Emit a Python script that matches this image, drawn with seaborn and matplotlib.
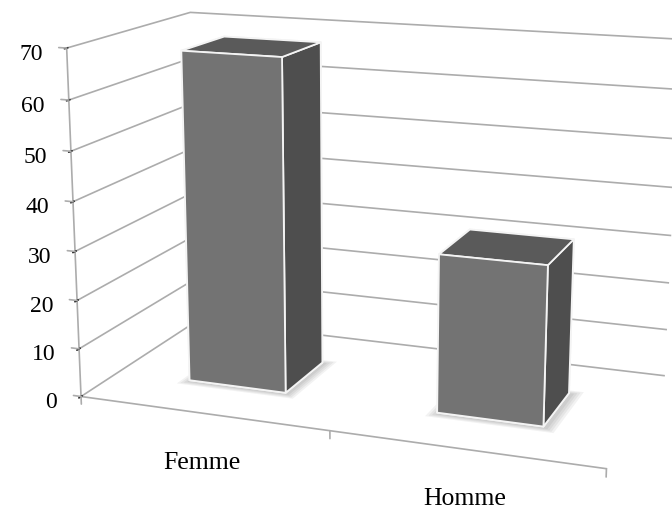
import numpy as np
import matplotlib
matplotlib.use("Agg")
import matplotlib.pyplot as plt
import matplotlib.transforms as mtransforms
from mpl_toolkits.mplot3d import proj3d
from mpl_toolkits.mplot3d.art3d import Poly3DCollection
import seaborn as sns

sns.set_theme(style="white")
plt.rcParams['font.family'] = ['Liberation Serif', 'DejaVu Serif']

# data
categories = ["Femme", "Homme"]
values = [68, 32]
zticks = [0, 10, 20, 30, 40, 50, 60, 70]

# look of the excel-like 3d column chart
bar_width = 0.4
bar_front = 0.306
bar_depth = 0.372
front_c, top_c, side_c = '#737373', '#5a5a5a', '#4e4e4e'
grid_c = '#acacac'

fig = plt.figure(figsize=(6.72, 5.10), dpi=100)
ax = fig.add_subplot(projection='3d', computed_zorder=False)
ax.set_xlim(0, len(categories)); ax.set_ylim(0, 1); ax.set_zlim(0, 70)
ax.view_init(elev=14.42, azim=-69.95, roll=-0.17)
ax.set_proj_type('persp', focal_length=0.4847)
ax.set_box_aspect((1, 0.4989, 0.656))
ax.set_position([30.8/672, -57.9/510, 677.5/672, 677.5/510])

# walls and floor
for a in (ax.xaxis, ax.yaxis, ax.zaxis):
    a.set_pane_color((1, 1, 1, 0))
    a.label.set_visible(False)
    a.offsetText.set_visible(False)
    a.set_label_position('lower')
ax.zaxis.pane.set_edgecolor(grid_c)
ax.zaxis.pane.set_linewidth(1.2)
ax.xaxis._axinfo['grid']['color'] = (1, 1, 1, 0)
ax.yaxis._axinfo['grid']['color'] = (1, 1, 1, 0)
ax.zaxis._axinfo['grid']['color'] = grid_c
ax.zaxis._axinfo['grid']['linewidth'] = 1.2
ax.xaxis.line.set_color(grid_c)
ax.zaxis.line.set_color(grid_c)
ax.xaxis.line.set_linewidth(1.2)
ax.zaxis.line.set_linewidth(1.2)
ax.yaxis.line.set_color((1, 1, 1, 0))
ax.zaxis.set_ticks_position('lower')
ax.set_xticks([]); ax.set_yticks([])
ax.set_zticks(zticks)
ax.zaxis.set_tick_params(label1On=False, tick1On=False)

centers = np.arange(len(categories)) + 0.5
left = centers - bar_width / 2

# soft shadows on the floor
for e in (0.04, 0.03, 0.02, 0.01):
    verts = []
    for l in left:
        x0, x1 = l - e + 0.01, l + bar_width + e + 0.01
        y0, y1 = bar_front - e - 0.01, bar_front + bar_depth + e - 0.01
        verts.append([(x0, y0, 0), (x1, y0, 0), (x1, y1, 0), (x0, y1, 0)])
    ax.add_collection3d(Poly3DCollection(verts, facecolors=(0, 0, 0, 0.05),
                                         edgecolors='none', zorder=1))

facecols = []
for _ in values:
    # bottom, top, front, back, left, right
    facecols += [front_c, top_c, front_c, front_c, front_c, side_c]
bars = ax.bar3d(left, [bar_front] * len(values), [0] * len(values),
                bar_width, bar_depth, values, color=facecols, shade=False,
                edgecolor='#f4f4f4', linewidth=1.3)
bars.set_zorder(2)

# labels are placed at the projected position of their 3d anchor
M = ax.get_proj()

# value axis ticks and labels
zu, zv, _ = proj3d.proj_transform(np.zeros(len(zticks)), np.zeros(len(zticks)),
                                  np.array(zticks, float), M)
tr = mtransforms.offset_copy(ax.transData, fig=fig, x=-24, y=-5, units='dots')
for z, u, v in zip(zticks, zu, zv):
    ax.plot([0, -0.032], [0, 0], [z, z], color=grid_c, lw=1.2, zorder=3)
    ax.text2D(u, v, str(z), transform=tr, ha='right', va='center',
              fontsize=17, color='black', zorder=3)

# category ticks and labels
for x in range(len(categories) + 1):
    ax.plot([x, x], [0, 0], [0, -1.6], color=grid_c, lw=1.2, zorder=3)
cu, cv, _ = proj3d.proj_transform(centers, np.zeros(len(centers)),
                                  np.zeros(len(centers)), M)
tr = mtransforms.offset_copy(ax.transData, fig=fig, x=0, y=-54.5, units='dots')
for lab, u, v in zip(categories, cu, cv):
    ax.text2D(u, v, lab, transform=tr, ha='center', va='baseline',
              fontsize=18.5, color='black', zorder=3)

fig.savefig('out.png', dpi=100)
